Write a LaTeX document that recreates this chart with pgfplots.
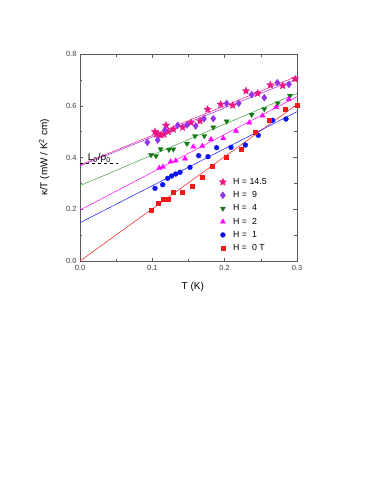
\documentclass[border=0pt]{standalone}
\usepackage{fontspec}
\setmainfont{Liberation Sans}
\usepackage{pgfplots}
\pgfplotsset{compat=1.18}

\definecolor{cstar}{RGB}{238,22,132}
\definecolor{cdiam}{RGB}{150,50,235}
\definecolor{cgreen}{RGB}{20,120,20}
\definecolor{cgline}{RGB}{60,160,60}
\definecolor{cmag}{RGB}{255,0,255}
\definecolor{cblue}{RGB}{10,20,240}
\definecolor{cred}{RGB}{245,25,25}
\definecolor{caxis}{RGB}{90,90,90}

% filled five-pointed star
\pgfdeclareplotmark{fstar}{%
  \pgfpathmoveto{\pgfqpointpolar{90}{\pgfplotmarksize}}%
  \pgfpathlineto{\pgfqpointpolar{126}{.45\pgfplotmarksize}}%
  \pgfpathlineto{\pgfqpointpolar{162}{\pgfplotmarksize}}%
  \pgfpathlineto{\pgfqpointpolar{198}{.45\pgfplotmarksize}}%
  \pgfpathlineto{\pgfqpointpolar{234}{\pgfplotmarksize}}%
  \pgfpathlineto{\pgfqpointpolar{270}{.45\pgfplotmarksize}}%
  \pgfpathlineto{\pgfqpointpolar{306}{\pgfplotmarksize}}%
  \pgfpathlineto{\pgfqpointpolar{342}{.45\pgfplotmarksize}}%
  \pgfpathlineto{\pgfqpointpolar{18}{\pgfplotmarksize}}%
  \pgfpathlineto{\pgfqpointpolar{54}{.45\pgfplotmarksize}}%
  \pgfpathclose
  \pgfusepathqfillstroke}

\begin{document}
\begin{tikzpicture}
\useasboundingbox (-80pt,-243pt) rectangle (310pt,261pt);
\begin{axis}[
  scale only axis, width=217pt, height=207pt,
  at={(0,0)}, anchor=south west,
  xmin=0, xmax=0.3, ymin=0, ymax=0.8,
  xtick={0,0.1,0.2,0.3}, ytick={0,0.2,0.4,0.6,0.8},
  minor xtick={0.05,0.15,0.25}, minor ytick={0.1,0.3,0.5,0.7},
  tick align=inside, major tick length=3.5pt, minor tick length=2.5pt,
  axis line style={caxis, line width=0.5pt}, tick style={caxis, line width=0.4pt},
  ticklabel style={font=\fontsize{7.5}{9}\selectfont, text=black!75},
  /pgf/number format/.cd, fixed, fixed zerofill, precision=1, assume math mode=true,
  /pgfplots/.cd,
  xticklabel style={yshift=-1pt},
  xlabel={T (K)}, ylabel={κ/T (mW / K\textsuperscript{2} cm)},
  label style={font=\fontsize{10}{12}\selectfont},
  xlabel style={at={(axis description cs:0.52,-0.125)}, anchor=center},
  ylabel style={at={(axis description cs:-0.165,0.5)}, anchor=center, rotate=0},
  legend style={at={(axis description cs:0.64,0.41)}, anchor=north west,
    draw=none, fill=none, font=\fontsize{8.8}{10}\selectfont,
    row sep=1.6pt, inner sep=0pt, cells={anchor=west},
    /tikz/every odd column/.append style={column sep=4.5pt}},
  legend cell align=left,
  legend image code/.code={\draw[mark repeat=2,mark phase=2,#1]
    plot coordinates {(0cm,0cm) (0.2cm,0cm) (0.4cm,0cm)};},
  clip=false,
]
% fitted lines
\addplot[cred, line width=0.5pt, forget plot] coordinates {(0,0) (0.3,0.605)};
\addplot[cblue, line width=0.5pt, forget plot] coordinates {(0,0.148) (0.3,0.577)};
\addplot[cmag, line width=0.5pt, forget plot] coordinates {(0,0.197) (0.3,0.635)};
\addplot[cgline, line width=0.5pt, forget plot] coordinates {(0,0.291) (0.3,0.648)};
\addplot[cdiam, line width=0.5pt, forget plot] coordinates {(0,0.367) (0.3,0.704)};
\addplot[cstar, line width=0.5pt, forget plot] coordinates {(0,0.371) (0.3,0.714)};
\addplot[black, dashed, line width=0.4pt, forget plot] coordinates {(0,0.377) (0.052,0.377)};
\node[anchor=base west, font=\fontsize{10}{11}\selectfont] at (axis cs:0.006,0.388)
  {L\textsubscript{0}/ρ\textsubscript{0}};

% data
\addplot[only marks, mark=fstar, mark size=4pt, cstar, mark options={fill=cstar, draw=cstar, line width=0.2pt}] coordinates {
(0.1037,0.4998) (0.1060,0.4908) (0.1083,0.4895) (0.1120,0.4870) (0.1161,0.4895)
(0.1189,0.5243) (0.1221,0.4998) (0.1290,0.5089) (0.1419,0.5166) (0.1535,0.5346)
(0.1659,0.5411) (0.1765,0.5861) (0.1945,0.6055) (0.2111,0.6016) (0.2295,0.6570)
(0.2456,0.6480) (0.2631,0.6802) (0.2802,0.6776) (0.2972,0.7034)
};
\addlegendentry{H = 14.5}
\addplot[only marks, mark=diamond*, mark size=3.5pt, cdiam, mark options={fill=cdiam, draw=cdiam, line width=0.3pt}] coordinates {
(0.0931,0.4586) (0.1074,0.4676) (0.1175,0.5063) (0.1350,0.5243) (0.1479,0.5256)
(0.1599,0.5217) (0.1714,0.5501) (0.1843,0.5501) (0.2028,0.6093) (0.2194,0.6093)
(0.2373,0.6428) (0.2548,0.6312) (0.2728,0.6892) (0.2889,0.6828)
};
\addlegendentry{H =\ \ 9}
\addplot[only marks, mark=triangle*, mark size=3pt, cgreen, mark options={rotate=180, fill=cgreen, draw=cgreen, line width=0.3pt}] coordinates {
(0.0982,0.4097) (0.1051,0.4058) (0.1115,0.4328) (0.1230,0.4303) (0.1290,0.4316)
(0.1479,0.4535) (0.1590,0.4831) (0.1719,0.4831) (0.1843,0.5166) (0.2028,0.5398)
(0.2373,0.5655) (0.2548,0.5874) (0.2733,0.6093) (0.2903,0.6390)
};
\addlegendentry{H =\ \ 4}
\addplot[only marks, mark=triangle*, mark size=3pt, cmag, mark options={fill=cmag, draw=cmag, line width=0.3pt}] coordinates {
(0.1097,0.3594) (0.1147,0.3633) (0.1253,0.3839) (0.1323,0.3878) (0.1452,0.3955)
(0.1567,0.4419) (0.1691,0.4444) (0.1811,0.4702) (0.1982,0.4741) (0.2157,0.5024)
(0.2341,0.5346) (0.2525,0.5617) (0.2710,0.5939) (0.2885,0.6248)
};
\addlegendentry{H =\ \ 2}
\addplot[only marks, mark=*, mark size=2.5pt, cblue, mark options={fill=cblue, draw=cblue, line width=0.2pt}] coordinates {
(0.1037,0.2808) (0.1143,0.2950) (0.1212,0.3195) (0.1267,0.3285) (0.1323,0.3362)
(0.1383,0.3427) (0.1521,0.3620) (0.1641,0.4071) (0.1770,0.4032) (0.1889,0.4380)
(0.2088,0.4393) (0.2286,0.4483) (0.2465,0.4857) (0.2664,0.5436) (0.2848,0.5488)
};
\addlegendentry{H =\ \ 1}
\addplot[only marks, mark=square*, mark size=2pt, cred, mark options={fill=cred, draw=cred, line width=0.2pt}] coordinates {
(0.0982,0.1971) (0.1074,0.2229) (0.1152,0.2396) (0.1212,0.2396) (0.1281,0.2667)
(0.1415,0.2667) (0.1548,0.2911) (0.1687,0.3246) (0.1825,0.3684) (0.2023,0.4006)
(0.2226,0.4316) (0.2419,0.4998) (0.2618,0.5449) (0.2834,0.5861) (0.3000,0.6029)
};
\addlegendentry{H =\ \ 0 T}
\end{axis}
\end{tikzpicture}
\end{document}
